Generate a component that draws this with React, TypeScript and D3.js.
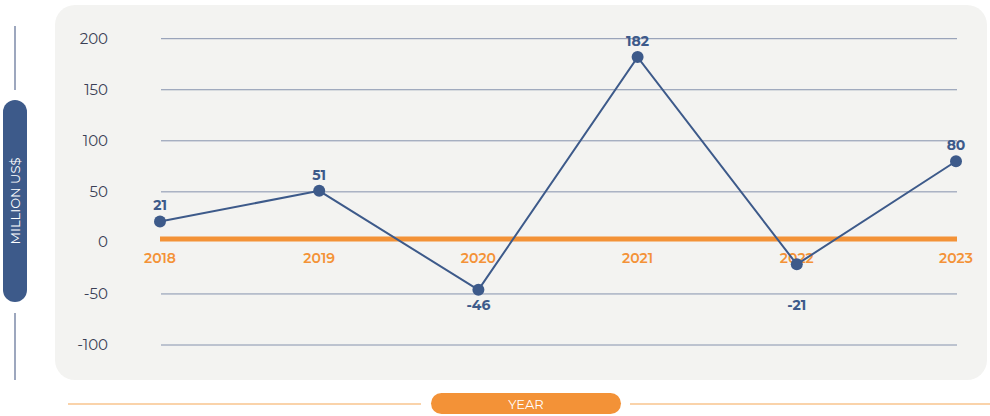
import React from "react";
import * as d3 from "d3";

const years = ["2018", "2019", "2020", "2021", "2022", "2023"];
const values = [21, 51, -46, 182, -21, 80];
const yTicks = [200, 150, 100, 50, 0, -50, -100];

const W = 990;
const H = 416;
const blue = "#3d5a8a";
const orange = "#f39237";
const font = "Montserrat, 'Open Sans', Lato, sans-serif";

const App = () => {
  const x = d3.scalePoint<string>().domain(years).range([160, 956]);
  const y = d3.scaleLinear().domain([-100, 200]).range([345, 38.7]);

  const line = d3
    .line<number>()
    .x((d, i) => x(years[i]) as number)
    .y((d) => y(d));

  return (
    <svg width={W} height={H} style={{ position: "absolute", left: 0, top: 0 }} fontFamily={font}>
      {/* card */}
      <rect x={55} y={5} width={932} height={375} rx={20} fill="#f3f3f1" />

      {/* y axis title */}
      <line x1={15} x2={15} y1={26} y2={90} stroke="#7d8aa8" strokeWidth={1.5} />
      <line x1={15} x2={15} y1={313} y2={380} stroke="#7d8aa8" strokeWidth={1.5} />
      <rect x={3} y={100} width={24} height={202} rx={12} fill={blue} />
      <text
        transform="translate(15,201) rotate(-90)"
        textAnchor="middle"
        dy="0.36em"
        fill="#fff"
        fontSize={13}
      >
        MILLION US$
      </text>

      {/* x axis title */}
      <line x1={68} x2={421} y1={404} y2={404} stroke="#f8c48e" strokeWidth={1.5} />
      <line x1={630} x2={990} y1={404} y2={404} stroke="#f8c48e" strokeWidth={1.5} />
      <rect x={431} y={393} width={190} height={21} rx={10.5} fill={orange} />
      <text x={526} y={404} textAnchor="middle" dy="0.36em" fill="#fff" fontSize={13}>
        YEAR
      </text>

      {/* grid + tick labels */}
      {yTicks.map((t) => (
        <g key={t}>
          {t !== 0 && (
            <line x1={161} x2={957} y1={y(t)} y2={y(t)} stroke="#8592ad" strokeWidth={1} />
          )}
          <text x={108} y={t === 0 ? y(t) - 1 : y(t)} dy="0.36em" textAnchor="end" fill="#3a3f55" fontSize={15}>
            {t}
          </text>
        </g>
      ))}

      {/* zero line */}
      <line x1={160} x2={957} y1={y(0) - 4} y2={y(0) - 4} stroke={orange} strokeWidth={5} />

      {/* year labels */}
      {years.map((yr) => (
        <text
          key={yr}
          x={x(yr)}
          y={258}
          dy="0.36em"
          textAnchor="middle"
          fill={orange}
          fontSize={14}
          fontWeight={600}
        >
          {yr}
        </text>
      ))}

      {/* series */}
      <path d={line(values) || ""} fill="none" stroke={blue} strokeWidth={2} />
      {values.map((v, i) => (
        <g key={i}>
          <circle cx={x(years[i])} cy={y(v)} r={6} fill={blue} />
          <text
            x={x(years[i])}
            y={v >= 0 ? y(v) - 11 : y(-50) + 16}
            textAnchor="middle"
            fill={blue}
            fontSize={14}
            fontWeight={700}
          >
            {v}
          </text>
        </g>
      ))}
    </svg>
  );
};

export default App;
